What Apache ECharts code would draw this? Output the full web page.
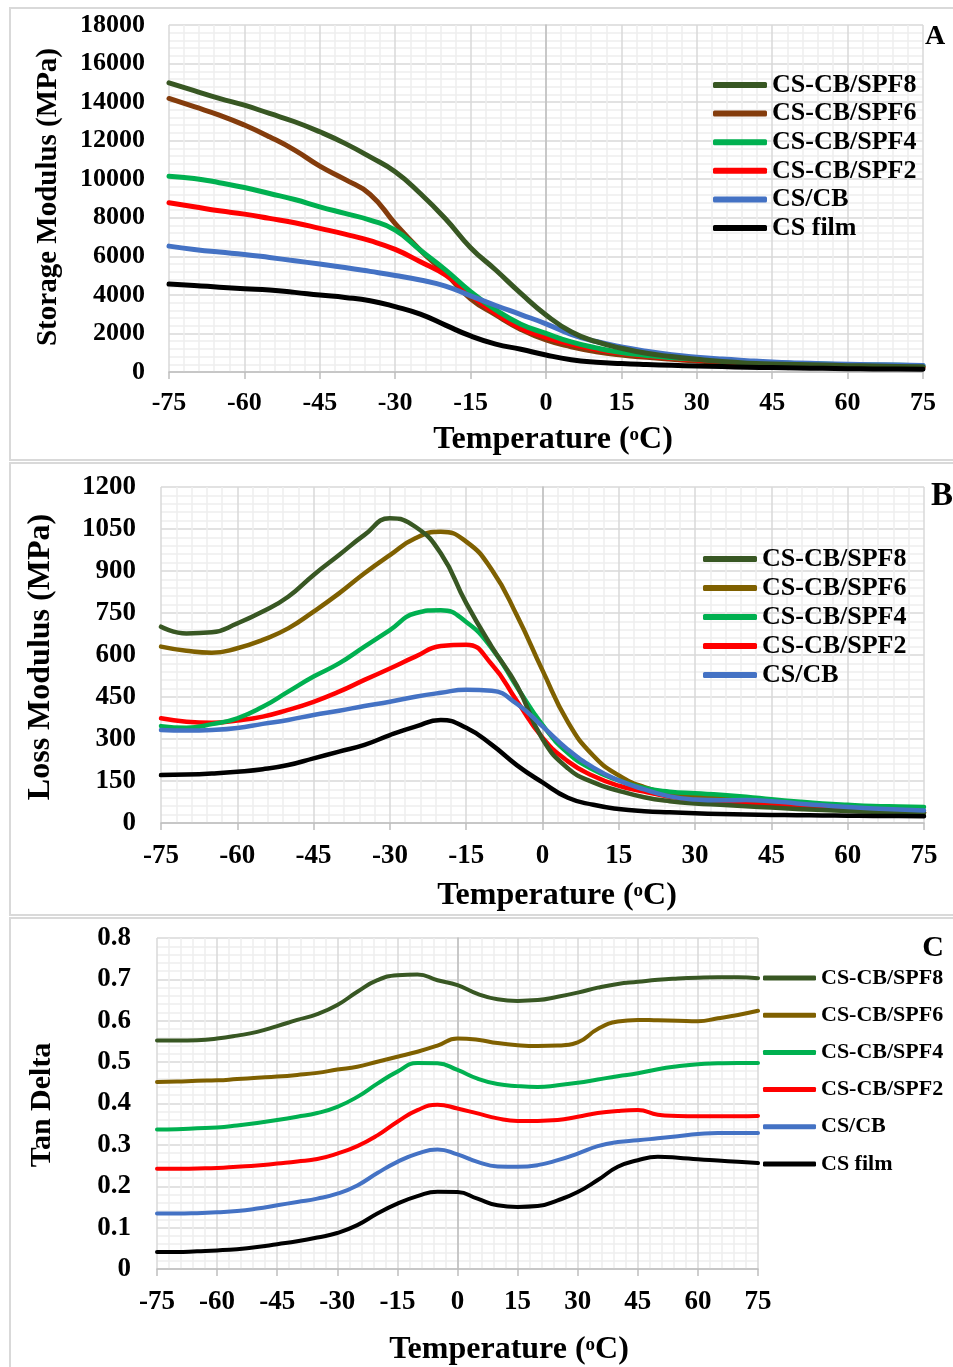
<!DOCTYPE html>
<html>
<head>
<meta charset="utf-8">
<script src="https://cdn.jsdelivr.net/npm/echarts@6/dist/echarts.min.js"></script>
<style>
html,body{margin:0;padding:0;background:#fff;}
#chart{width:953px;height:1367px;}
</style>
</head>
<body>
<div id="chart"></div>
<script>
// Temperature grid (°C)
const temps = [-75,-70,-65,-60,-55,-50,-45,-40,-35,-30,-25,-20,-15,-10,-5,0,5,10,15,20,25,30,35,40,45,50,55,60,65,70,75];
const xTicks = [-75,-60,-45,-30,-15,0,15,30,45,60,75];
const seriesNames = ['CS-CB/SPF8','CS-CB/SPF6','CS-CB/SPF4','CS-CB/SPF2','CS/CB','CS film'];

// Panel A: Storage modulus (MPa)
const storageSPF8 = [15000,14590,14190,13840,13410,12980,12460,11860,11160,10390,9260,7950,6450,5290,4080,2960,2090,1570,1230,970,800,660,540,460,420,390,360,330,310,290,270];
const storageSPF6 = [14190,13760,13330,12810,12200,11510,10680,9990,9220,7700,6320,5110,3800,2960,2210,1660,1310,1055,880,760,660,570,490,440,400,360,330,300,280,260,240];
const storageSPF4 = [10160,10040,9820,9570,9260,8950,8570,8230,7880,7360,6320,5300,4170,3220,2480,2000,1560,1250,1010,860,740,660,590,520,480,440,410,380,360,345,330];
const storageSPF2 = [8780,8570,8360,8190,7970,7740,7450,7150,6810,6360,5720,5030,3990,3040,2270,1800,1450,1180,970,830,710,620,540,470,420,380,340,310,290,270,250];
const storageCSCB = [6530,6360,6220,6100,5940,5770,5600,5420,5220,5010,4770,4460,3950,3450,2980,2500,1950,1580,1300,1080,900,770,670,590,520,470,430,400,380,360,340];
const storageCS   = [4560,4490,4400,4320,4250,4130,3990,3870,3700,3390,3000,2430,1870,1450,1180,880,640,510,440,390,350,310,280,250,230,210,190,170,160,150,140];

// Panel B: Loss modulus (MPa)
const lossSPF8 = [701,677,681,713,755,808,886,957,1029,1088,1058,963,785,630,490,300,195,145,115,92,78,70,65,60,55,50,46,43,40,38,36];
const lossSPF6 = [630,615,608,624,654,695,755,820,892,957,1017,1040,1005,905,740,545,360,240,170,128,105,95,88,80,72,62,55,48,44,40,37];
const lossSPF4 = [346,340,353,374,415,469,523,570,630,689,749,760,718,625,485,350,250,190,152,125,112,106,101,94,85,77,70,65,61,59,57];
const lossSPF2 = [374,362,358,366,380,404,433,469,511,552,594,632,637,567,435,305,220,168,133,112,94,80,72,67,62,57,52,48,44,41,38];
const lossCSCB = [332,330,332,339,354,368,386,401,418,433,451,465,476,472,425,345,262,198,152,120,95,84,81,82,78,70,63,57,52,48,45];
const lossCS   = [171,173,177,183,192,207,231,255,279,314,344,368,340,280,206,145,90,65,50,42,38,35,32,30,29,28,27,26,25,25,24];

// Panel C: Tan delta
const tanSPF8 = [0.552,0.552,0.553,0.557,0.564,0.573,0.587,0.602,0.616,0.638,0.670,0.698,0.710,0.712,0.698,0.686,0.665,0.652,0.648,0.650,0.658,0.668,0.680,0.689,0.694,0.699,0.702,0.704,0.705,0.705,0.703];
const tanSPF6 = [0.452,0.453,0.455,0.456,0.459,0.462,0.465,0.469,0.474,0.482,0.489,0.501,0.513,0.525,0.540,0.557,0.554,0.546,0.541,0.539,0.540,0.548,0.580,0.598,0.602,0.601,0.600,0.599,0.606,0.614,0.624];
const tanSPF4 = [0.337,0.338,0.340,0.342,0.347,0.353,0.360,0.368,0.377,0.392,0.416,0.448,0.477,0.498,0.497,0.481,0.460,0.447,0.442,0.440,0.444,0.450,0.458,0.466,0.473,0.483,0.490,0.495,0.497,0.498,0.498];
const tanSPF2 = [0.242,0.242,0.243,0.244,0.247,0.250,0.255,0.260,0.266,0.279,0.297,0.323,0.356,0.384,0.397,0.388,0.376,0.364,0.358,0.358,0.360,0.368,0.377,0.382,0.384,0.373,0.370,0.369,0.369,0.369,0.370];
const tanCSCB = [0.134,0.134,0.135,0.137,0.140,0.146,0.154,0.162,0.170,0.182,0.202,0.232,0.259,0.279,0.289,0.277,0.259,0.248,0.247,0.251,0.263,0.279,0.297,0.307,0.311,0.316,0.321,0.326,0.329,0.329,0.329];
const tanCS   = [0.041,0.041,0.043,0.045,0.048,0.053,0.060,0.067,0.076,0.087,0.106,0.134,0.158,0.176,0.187,0.186,0.170,0.154,0.150,0.152,0.166,0.186,0.215,0.247,0.263,0.271,0.269,0.265,0.262,0.259,0.256];

const FONT = "'Liberation Serif','Times New Roman',serif";
const C8 = '#385723', CBROWN = '#843c0c', COLIVE = '#7f6000', C4 = '#00b050', C2 = '#ff0000', CB = '#4472c4', CF = '#000000';

const chart = echarts.init(document.getElementById('chart'), null, {renderer: 'canvas'});

function pairs(arr){ return temps.map((t,i)=>[t, arr[i]]); }

function xAxis(gridIndex, fontSize, margin){
  return {
    type: 'value', gridIndex, min: -75, max: 75, interval: 15,
    axisLine: {show: true, onZero: false, lineStyle: {color: '#bfbfbf', width: 1.5}},
    axisTick: {show: true, length: 7, lineStyle: {color: '#bfbfbf', width: 1.5}},
    axisLabel: {fontFamily: FONT, fontWeight: 'bold', fontSize, color: '#000', margin},
    splitLine: {show: true, lineStyle: {color: '#d9d9d9', width: 1.5}},
    minorTick: {show: false, splitNumber: 5},
    minorSplitLine: {show: true, lineStyle: {color: '#eeeeee', width: 1.5}}
  };
}
function yAxis(gridIndex, max, interval, fontSize, margin, fmt){
  return {
    type: 'value', gridIndex, min: 0, max, interval,
    axisLine: {show: true, lineStyle: {color: '#bfbfbf', width: 1.5}},
    axisTick: {show: false},
    axisLabel: {fontFamily: FONT, fontWeight: 'bold', fontSize, color: '#000', margin, formatter: fmt},
    splitLine: {show: true, lineStyle: {color: '#d9d9d9', width: 1.5}},
    minorTick: {show: false, splitNumber: 5},
    minorSplitLine: {show: true, lineStyle: {color: '#eeeeee', width: 1.5}}
  };
}
function line(name, arr, color, idx, width){
  return {
    name, type: 'line', xAxisIndex: idx, yAxisIndex: idx, data: pairs(arr),
    showSymbol: false, symbol: 'none', smooth: 0.5,
    lineStyle: {color, width, cap: 'round', join: 'round'}, itemStyle: {color}, z: 3
  };
}
function legend(names, colors, left, top, fontSize, gap, w, h){
  return {
    orient: 'vertical', left, top, padding: 0, itemGap: gap,
    itemWidth: w, itemHeight: h, icon: 'roundRect', selectedMode: false,
    data: names.map((n,i)=>({name: n, itemStyle: {color: colors[i], borderWidth: 0}})),
    textStyle: {fontFamily: FONT, fontWeight: 'bold', fontSize, lineHeight: fontSize, color: '#000'}
  };
}
function title(text, x, y, size, rot){
  return {
    type: 'text', x, y, rotation: rot ? Math.PI/2 : 0, z: 10,
    style: {
      text: '{a|' + text + '}',
      rich: {a: {fontFamily: FONT, fontWeight: 'bold', fontSize: size, fill: '#000'}},
      align: 'center', verticalAlign: 'middle'
    }
  };
}
function tempTitle(x, y, size){
  return {
    type: 'text', x, y, z: 10,
    style: {
      text: '{a|Temperature (}{s|o}{a|C)}',
      rich: {
        a: {fontFamily: FONT, fontWeight: 'bold', fontSize: size, lineHeight: size + 4, fill: '#000'},
        s: {fontFamily: FONT, fontWeight: 'bold', fontSize: Math.round(size*0.58), lineHeight: Math.round(size*0.58), verticalAlign: 'top', fill: '#000', padding: [4,0,0,0]}
      },
      align: 'center', verticalAlign: 'middle'
    }
  };
}
function box(x, y, w, h){
  return {type: 'rect', shape: {x, y, width: w, height: h}, z: 0, style: {fill: 'none', stroke: '#d9d9d9', lineWidth: 2}};
}

const option = {
  backgroundColor: '#ffffff',
  animation: false,
  grid: [
    {left: 169, top: 25, width: 754, height: 347},
    {left: 161, top: 487, width: 763, height: 336},
    {left: 157, top: 938, width: 601, height: 331}
  ],
  xAxis: [xAxis(0, 26, 18), xAxis(1, 27, 20), xAxis(2, 27, 20)],
  yAxis: [
    yAxis(0, 18000, 2000, 26, 24, v => String(v)),
    yAxis(1, 1200, 150, 27, 25, v => String(v)),
    yAxis(2, 0.8, 0.1, 27, 26, v => String(+(+v).toFixed(1)))
  ],
  legend: [
    legend(seriesNames, [C8, CBROWN, C4, C2, CB, CF], 713, 72, 26, 2.6, 54, 6),
    legend(seriesNames.slice(0,5), [C8, COLIVE, C4, C2, CB], 703, 546, 26, 3, 54, 6),
    legend(seriesNames, [C8, COLIVE, C4, C2, CB, CF], 763, 967, 22, 15.2, 53, 5)
  ],
  series: [
    line('CS-CB/SPF6', storageSPF6, CBROWN, 0, 5),
    line('CS-CB/SPF2', storageSPF2, C2, 0, 5),
    line('CS-CB/SPF4', storageSPF4, C4, 0, 5),
    line('CS/CB', storageCSCB, CB, 0, 5),
    line('CS-CB/SPF8', storageSPF8, C8, 0, 5),
    line('CS film', storageCS, CF, 0, 5),

    line('CS-CB/SPF6', lossSPF6, COLIVE, 1, 4.5),
    line('CS-CB/SPF2', lossSPF2, C2, 1, 4.5),
    line('CS-CB/SPF4', lossSPF4, C4, 1, 4.5),
    line('CS-CB/SPF8', lossSPF8, C8, 1, 4.5),
    line('CS/CB', lossCSCB, CB, 1, 4.5),
    line('CS film', lossCS, CF, 1, 4.5),

    line('CS-CB/SPF8', tanSPF8, C8, 2, 4),
    line('CS-CB/SPF6', tanSPF6, COLIVE, 2, 4),
    line('CS-CB/SPF4', tanSPF4, C4, 2, 4),
    line('CS-CB/SPF2', tanSPF2, C2, 2, 4),
    line('CS/CB', tanCSCB, CB, 2, 4),
    line('CS film', tanCS, CF, 2, 4)
  ],
  graphic: [
    box(10, 8, 950, 452),
    box(10, 463, 950, 452),
    box(10, 918, 950, 460),
    title('Storage Modulus (MPa)', 49, 197, 29, true),
    tempTitle(553, 440, 32),
    {type: 'text', x: 935, y: 37, z: 10, style: {text: 'A', font: 'bold 28px ' + FONT, fill: '#000', align: 'center', verticalAlign: 'middle'}},
    title('Loss Modulus (MPa)', 41, 657, 32, true),
    tempTitle(557, 896, 32),
    {type: 'rect', shape: {x: 925, y: 464, width: 30, height: 45}, z: 9, style: {fill: '#fff'}},
    {type: 'text', x: 942, y: 496, z: 10, style: {text: 'B', font: 'bold 33px ' + FONT, fill: '#000', align: 'center', verticalAlign: 'middle'}},
    title('Tan Delta', 42, 1105, 30, true),
    tempTitle(509, 1350, 32),
    {type: 'text', x: 933, y: 948, z: 10, style: {text: 'C', font: 'bold 30px ' + FONT, fill: '#000', align: 'center', verticalAlign: 'middle'}}
  ]
};
chart.setOption(option);
</script>
</body>
</html>
